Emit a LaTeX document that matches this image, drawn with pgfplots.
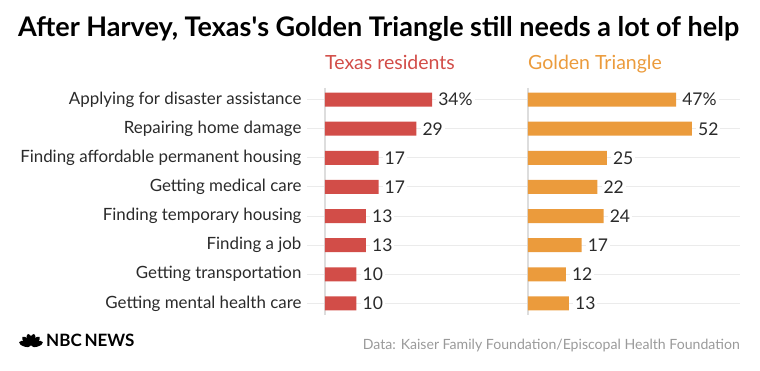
\documentclass[border=0pt]{standalone}
\usepackage{fontspec}
\setmainfont{Lato}
\usepackage{pgfplots}
\usepackage{pgfplotstable}
\pgfplotsset{compat=1.18}
\definecolor{tred}{HTML}{D24D48}
\definecolor{gorange}{HTML}{EB9B3C}
\definecolor{gridc}{HTML}{EBEBEB}
\definecolor{axc}{HTML}{DDDDDD}
\definecolor{txt}{HTML}{2A2A2A}
\definecolor{src}{HTML}{9A9A9A}

\pgfplotstableread{
row val lab
0 34 34\%
1 29 29
2 17 17
3 17 17
4 13 13
5 13 13
6 10 10
7 10 10
}\texas
\pgfplotstableread{
row val lab
0 47 47\%
1 52 52
2 25 25
3 22 22
4 24 24
5 17 17
6 12 12
7 13 13
}\golden

\pgfplotsset{panel/.style={
  scale only axis, anchor=north west,
  xbar, bar width=14pt,
  y dir=reverse, ymin=-0.4, ymax=7.4,
  ytick={0,...,7},
  ymajorgrids, major grid style={gridc, line width=1pt},
  axis line style={draw=none}, major tick length=0pt,
  xtick=\empty,
  height=227pt,
  nodes near coords, point meta=explicit symbolic,
  nodes near coords style={anchor=west, font=\fontsize{17.5}{17.5}\selectfont, text=txt, fill=white, inner sep=2pt, xshift=4pt},
  clip=false,
}}

\begin{document}
\begin{tikzpicture}[x=1pt,y=1pt]
\useasboundingbox (0,0) rectangle (760,-371);

\node[anchor=base west, inner sep=0, font=\bfseries\fontsize{27}{27}\selectfont, text=black] at (18,-37) {After Harvey, Texas\textquotesingle s Golden Triangle still needs a lot of help};
\node[anchor=base west, inner sep=0, font=\fontsize{19.5}{19.5}\selectfont, text=tred] at (325,-70) {Texas residents};
\node[anchor=base west, inner sep=0, font=\fontsize{19.5}{19.5}\selectfont, text=gorange] at (528,-70) {Golden Triangle};

\begin{axis}[panel, at={(307pt,-88pt)}, width=220pt, xmin=-5.7, xmax=64.1,
  yticklabels={Applying for disaster assistance, Repairing home damage, Finding affordable permanent housing, Getting medical care, Finding temporary housing, Finding a job, Getting transportation, Getting mental health care},
  yticklabel style={font=\fontsize{16.9}{16.9}\selectfont, text=txt, anchor=east, xshift=-2pt}]
\draw[axc, line width=1.2pt] (axis cs:0,-0.4) -- (axis cs:0,7.4);
\addplot[fill=tred, draw=none, bar shift=0pt] table[x=val, y=row, meta=lab] {\texas};
\end{axis}

\begin{axis}[panel, at={(507pt,-88pt)}, width=233pt, xmin=-6.66, xmax=67.26, yticklabels={}]
\draw[axc, line width=1.2pt] (axis cs:0,-0.4) -- (axis cs:0,7.4);
\addplot[fill=gorange, draw=none, bar shift=0pt] table[x=val, y=row, meta=lab] {\golden};
\end{axis}

% NBC logo
\begin{scope}[shift={(31,-346)}]
\foreach \a in {18,47,76,104,133,162} {
  \fill[black, rotate=\a] (6.5,0) ellipse (6pt and 2.6pt);
}
\end{scope}
\node[anchor=base west, inner sep=0, font=\bfseries\fontsize{17}{17}\selectfont, text=black] at (46,-346) {NBC\,NEWS};

\node[anchor=base east, inner sep=0, font=\fontsize{14.1}{14.1}\selectfont, text=src] at (740,-349) {Data: Kaiser Family Foundation/Episcopal Health Foundation};
\end{tikzpicture}
\end{document}
